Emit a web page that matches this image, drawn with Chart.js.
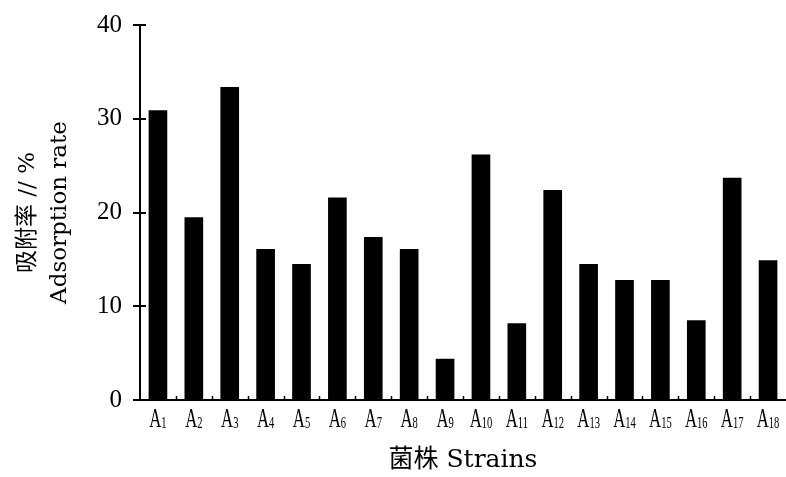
<!DOCTYPE html>
<html>
<head>
<meta charset="utf-8">
<script src="https://cdn.jsdelivr.net/npm/chart.js@4/dist/chart.umd.min.js"></script>
<style>
  body { margin: 0; background: #fff; }
  canvas { display: block; }
</style>
</head>
<body>
<canvas id="adsorption" width="786" height="477"></canvas>
<script>
// strains A1..A18 and their adsorption rate (%)
var strainNumbers = ['1','2','3','4','5','6','7','8','9','10','11','12','13','14','15','16','17','18'];
var strains = strainNumbers.map(function(n){ return 'A' + n; });
var adsorptionRate = [30.9, 19.5, 33.4, 16.1, 14.5, 21.6, 17.4, 16.1, 4.4, 26.2, 8.2, 22.4, 14.5, 12.8, 12.8, 8.5, 23.7, 14.9];
var yTicks = [0, 10, 20, 30, 40];

// draws A + subscript labels, and the small ticks that sit inside the axes
var axisDecor = {
    id: 'axisDecor',
    afterDraw: function(chart){
        var ctx = chart.ctx;
        var xs = chart.scales.x, ys = chart.scales.y;
        var area = chart.chartArea;
        ctx.save();
        ctx.strokeStyle = '#000';
        ctx.lineWidth = 2;
        // y ticks, crossing the axis
        yTicks.forEach(function(v){
            var y = Math.round(ys.getPixelForValue(v));
            ctx.beginPath();
            ctx.moveTo(area.left - 7, y);
            ctx.lineTo(area.left + 6, y);
            ctx.stroke();
        });
        // x ticks between categories, pointing up
        ctx.lineWidth = 1.5;
        for (var i = 0; i < strains.length - 1; i++){
            var bx = Math.round((xs.getPixelForTick(i) + xs.getPixelForTick(i + 1)) / 2) + 0.5;
            ctx.beginPath();
            ctx.moveTo(bx, area.bottom);
            ctx.lineTo(bx, area.bottom - 4);
            ctx.stroke();
        }
        // category labels
        ctx.fillStyle = '#000';
        ctx.textBaseline = 'alphabetic';
        ctx.textAlign = 'left';
        var squeeze = 0.62;
        strainNumbers.forEach(function(n, i){
            var x = xs.getPixelForTick(i);
            ctx.font = '27px "Liberation Serif"';
            var wa = ctx.measureText('A').width;
            ctx.font = '17px "Liberation Serif"';
            var wn = ctx.measureText(n).width;
            var total = (wa + wn) * squeeze;
            ctx.save();
            ctx.translate(x - total / 2, 427);
            ctx.scale(squeeze, 1);
            ctx.font = '27px "Liberation Serif"';
            ctx.fillText('A', 0, 0);
            ctx.font = '17px "Liberation Serif"';
            ctx.fillText(n, wa, 1);
            ctx.restore();
        });
        ctx.restore();
    }
};

var chartData = {
    labels: strains,
    datasets: [{
        data: adsorptionRate,
        backgroundColor: '#000',
        borderWidth: 0,
        barPercentage: 0.52,
        categoryPercentage: 1.0
    }]
};

var chartOptions = {
    responsive: false,
    animation: false,
    layout: { padding: { top: 25, right: 0, left: 0, bottom: 0 } },
    plugins: {
        legend: { display: false },
        tooltip: { enabled: false }
    },
    scales: {
        x: {
            offset: true,
            grid: { display: false },
            border: { display: true, color: '#000', width: 2 },
            ticks: { display: false },
            title: {
                display: true,
                text: '菌株 Strains',
                color: '#000',
                font: { family: '"DejaVu Serif", "Noto Sans CJK SC"', size: 25 },
                padding: { top: 0, bottom: 2 }
            },
            afterFit: function(scale){ scale.height = 77; }
        },
        y: {
            min: 0,
            max: 40,
            grid: { display: false },
            border: { display: true, color: '#000', width: 2 },
            ticks: {
                stepSize: 10,
                color: '#000',
                padding: 10,
                font: { family: '"Liberation Serif"', size: 25 }
            },
            title: {
                display: true,
                text: ['吸附率 // %', 'Adsorption rate'],
                color: '#000',
                font: { family: '"DejaVu Serif", "Noto Sans CJK SC"', size: 23, lineHeight: 1.4 },
                padding: { top: 12, bottom: 0 }
            },
            afterFit: function(scale){ scale.width = 140; }
        }
    }
};

var adsorptionChart = new Chart(document.getElementById('adsorption'), {
    type: 'bar',
    data: chartData,
    options: chartOptions,
    plugins: [axisDecor]
});
</script>
</body>
</html>
